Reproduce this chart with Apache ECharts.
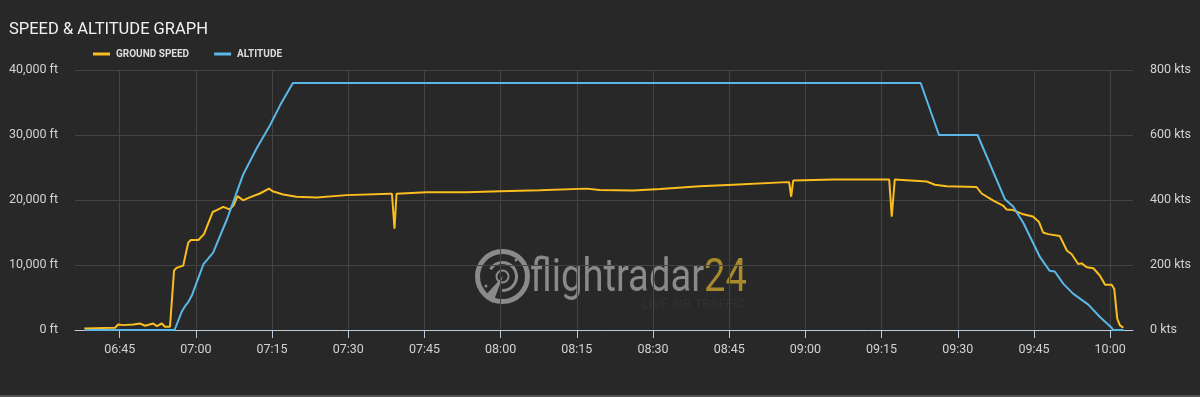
<!DOCTYPE html>
<html>
<head>
<meta charset="utf-8">
<script src="https://cdn.jsdelivr.net/npm/echarts@6/dist/echarts.min.js"></script>
<style>
  html, body { margin: 0; padding: 0; background: #282828; }
  #wrap { width: 1200px; height: 395px; border-bottom: 2px solid #505050; }
  #chart { width: 1200px; height: 395px; }
</style>
</head>
<body>
<div id="wrap"><div id="chart"></div></div>
<script>
// ---- data (times in minutes since midnight) ----
const xTickLabels = ['06:45','07:00','07:15','07:30','07:45','08:00','08:15','08:30','08:45','09:00','09:15','09:30','09:45','10:00'];
const xRange = [396.2, 604.5];

const altitudeMinutes = [398.2, 415.8, 417.2, 417.9, 418.5, 419.2, 420.2, 421.5, 423.4, 426.1, 427.4, 429.3, 432.0, 434.6, 436.6, 439.1,
  562.7, 566.3, 573.9, 579.3, 580.9, 582.9, 586.2, 588.1, 589.1, 590.8, 592.7, 595.7, 598.0, 600.3, 600.6, 602.6];
const altitudeFt = [0, 0, 2800, 3700, 4300, 5300, 7400, 10150, 11900, 17000, 19800, 23900, 28000, 31500, 34600, 38000,
  38000, 30000, 30000, 20100, 19000, 16500, 11200, 9100, 9000, 7100, 5600, 3900, 2000, 350, 0, 0];

const speedMinutes = [398.0, 404.1, 404.7, 405.7, 407.7, 409.0, 410.0, 411.6, 412.3, 413.3, 413.9, 414.9, 415.2, 415.7, 416.2, 417.5,
  418.5, 419.0, 420.5, 421.6, 423.3, 424.1, 425.4, 426.6, 427.4, 428.2, 429.3, 430.6, 432.6, 434.4, 435.1, 437.2, 439.8, 443.8,
  449.7, 458.2, 458.6, 459.1, 459.5, 465.4, 473.3, 479.9, 487.7, 496.9, 499.5, 506.1, 511.4, 519.2, 525.8, 536.3, 536.8, 537.2,
  537.6, 545.5, 556.0, 556.5, 557.0, 557.6, 563.9, 565.5, 567.8, 573.7, 574.7, 577.0, 578.9, 579.6, 580.9, 582.9, 584.8, 586.0,
  586.8, 587.8, 590.1, 591.5, 592.4, 593.7, 594.4, 595.4, 596.7, 598.0, 599.0, 600.3, 600.8, 601.4, 601.9, 602.6];
const speedKts = [5, 7, 17, 15, 17, 20, 13, 20, 12, 20, 10, 10, 15, 183, 191, 198,
  269, 277, 277, 295, 363, 369, 379, 371, 383, 412, 399, 408, 420, 435, 427, 417, 410, 408,
  415, 419, 419, 312, 419, 424, 424, 427, 430, 435, 431, 429, 434, 442, 447, 455, 455, 410,
  460, 463, 463, 463, 349, 463, 457, 447, 442, 440, 420, 398, 383, 371, 369, 356, 349, 332,
  300, 295, 289, 244, 234, 203, 205, 193, 190, 167, 139, 139, 127, 35, 15, 7];

const altitudeTicks = [0, 10000, 20000, 30000, 40000];
const speedTicks = [0, 200, 400, 600, 800];

// ---- helpers ----
function toMinutes(s) { const p = s.split(':'); return +p[0] * 60 + +p[1]; }
function fmtTime(v) {
  const h = Math.floor(v / 60), m = Math.round(v - h * 60);
  return String(h).padStart(2, '0') + ':' + String(m).padStart(2, '0');
}
function zip(a, b) { return a.map((v, i) => [v, b[i]]); }
const xTickValues = xTickLabels.map(toMinutes);

const FONT = 'Roboto';
const LABEL = '#d2d2d2';
const GRID = '#444444';
const AXIS = '#b8cadb';
const C_SPEED = '#fbbd1f';
const C_ALT = '#5ab7e8';

const chart = echarts.init(document.getElementById('chart'), null, { renderer: 'canvas' });
chart.setOption({
  backgroundColor: '#282828',
  animation: false,
  title: {
    text: 'SPEED & ALTITUDE GRAPH',
    left: 9, top: 21, padding: 0,
    textStyle: { color: '#f2f2f2', fontFamily: FONT, fontSize: 16.5, fontWeight: 'normal' }
  },
  legend: {
    left: 93, top: 49, padding: 0,
    icon: 'rect', itemWidth: 17, itemHeight: 3, itemGap: 25,
    textStyle: { color: '#dddddd', fontFamily: FONT, fontSize: 10, fontWeight: 'bold', padding: [0, 0, 0, 1] },
    data: ['GROUND SPEED', 'ALTITUDE']
  },
  graphic: [
    { type: 'group', z: 0, silent: true, children: [
      { type: 'circle', shape: { cx: 502.5, cy: 276.5, r: 25 }, style: { fill: 'none', stroke: '#8a8a8a', lineWidth: 5 } },
      { type: 'arc', shape: { cx: 502.5, cy: 276.5, r: 14, startAngle: -2.6, endAngle: 1.6 }, style: { fill: 'none', stroke: '#8a8a8a', lineWidth: 3 } },
      { type: 'circle', shape: { cx: 502.5, cy: 276.5, r: 6 }, style: { fill: 'none', stroke: '#8a8a8a', lineWidth: 2 } },
      { type: 'polygon', shape: { points: [[503, 276], [484, 297], [493, 303]] }, style: { fill: '#8a8a8a' } },
      { type: 'circle', shape: { cx: 516, cy: 260, r: 1.5 }, style: { fill: '#8a8a8a' } },
      { type: 'circle', shape: { cx: 486, cy: 286, r: 1.5 }, style: { fill: '#8a8a8a' } },
      { type: 'text', x: 530, y: 279, scaleX: 0.83, originX: 0,
        style: { text: '{a|flightradar}{b|24}', verticalAlign: 'middle', align: 'left',
          rich: {
            a: { fontFamily: FONT, fontSize: 46, fill: '#8a8a8a', fontWeight: 'normal' },
            b: { fontFamily: FONT, fontSize: 46, fill: '#a88a2c', fontWeight: 'normal' }
          } } },
      { type: 'text', x: 745, y: 305, style: { text: 'LIVE AIR TRAFFIC', align: 'right', verticalAlign: 'middle', fontFamily: FONT, fontSize: 13, fill: '#313131' } }
    ] }
  ],
  grid: { left: 75, right: 67, top: 70, bottom: 65, containLabel: false },
  xAxis: {
    type: 'value',
    min: xRange[0], max: xRange[1],
    axisLine: { show: true, lineStyle: { color: AXIS, width: 1 } },
    axisTick: { show: true, length: 8, customValues: xTickValues, lineStyle: { color: AXIS } },
    axisLabel: { customValues: xTickValues, color: LABEL, fontFamily: FONT, fontSize: 12.5, margin: 13, formatter: fmtTime },
    splitLine: { show: true, lineStyle: { color: GRID, width: 1 } }
  },
  yAxis: [
    {
      type: 'value', min: altitudeTicks[0], max: altitudeTicks[altitudeTicks.length - 1], interval: altitudeTicks[1] - altitudeTicks[0],
      axisLine: { show: false }, axisTick: { show: false },
      axisLabel: { color: LABEL, fontFamily: FONT, fontSize: 12.5, margin: 17, verticalAlign: 'middle', lineHeight: 18, padding: [6, 0, 0, 0],
        formatter: v => v.toLocaleString('en-US') + ' ft' },
      splitLine: { show: true, lineStyle: { color: GRID, width: 1 } }
    },
    {
      type: 'value', min: speedTicks[0], max: speedTicks[speedTicks.length - 1], interval: speedTicks[1] - speedTicks[0],
      position: 'right',
      axisLine: { show: false }, axisTick: { show: false },
      axisLabel: { color: LABEL, fontFamily: FONT, fontSize: 12.5, margin: 17, verticalAlign: 'middle', lineHeight: 18, padding: [6, 0, 0, 0],
        formatter: v => v + ' kts' },
      splitLine: { show: false }
    }
  ],
  series: [
    {
      name: 'GROUND SPEED', type: 'line', yAxisIndex: 1, data: zip(speedMinutes, speedKts),
      showSymbol: false, symbol: 'none', smooth: false, z: 3,
      lineStyle: { color: C_SPEED, width: 2 }, itemStyle: { color: C_SPEED }
    },
    {
      name: 'ALTITUDE', type: 'line', yAxisIndex: 0, data: zip(altitudeMinutes, altitudeFt),
      showSymbol: false, symbol: 'none', smooth: false, z: 4,
      lineStyle: { color: C_ALT, width: 2 }, itemStyle: { color: C_ALT }
    }
  ]
});
</script>
</body>
</html>
